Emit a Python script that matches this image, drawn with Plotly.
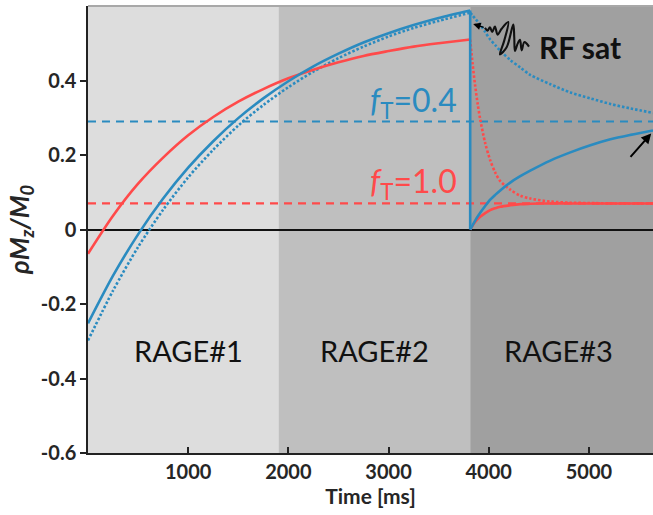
import plotly.graph_objects as go

# ---------------- data ----------------
x_range = [0, 5640]
y_range = [-0.6, 0.6]
x_ticks = [1000, 2000, 3000, 4000, 5000]
y_ticks = [-0.6, -0.4, -0.2, 0, 0.2, 0.4]
y_ticktext = ["-0.6", "-0.4", "-0.2", "0", "0.2", "0.4"]

region_edges = [0, 1902, 3815, 5640]
region_colors = ["#dddddd", "#bfbfbf", "#a0a0a0"]
region_labels = ["RAGE#1", "RAGE#2", "RAGE#3"]
region_label_t = [1000, 2855, 4700]
region_label_v = -0.325

# RAGE#1 + RAGE#2
t12 = [0, 250, 500, 750, 1000, 1250, 1500, 1750, 2000, 2250, 2500, 2750, 3000, 3250, 3500, 3815]
red_solid12 = [-0.065, 0.037, 0.123, 0.193, 0.253, 0.302, 0.343, 0.377, 0.406, 0.429, 0.449, 0.466, 0.479, 0.491, 0.500, 0.510]
blue_solid12 = [-0.252, -0.124, -0.013, 0.083, 0.166, 0.237, 0.299, 0.352, 0.398, 0.438, 0.472, 0.502, 0.527, 0.549, 0.568, 0.588]
blue_dot12 = [-0.298, -0.164, -0.047, 0.053, 0.140, 0.214, 0.279, 0.334, 0.382, 0.424, 0.460, 0.491, 0.518, 0.541, 0.560, 0.582]

# RAGE#3
t3 = [3815, 3840, 3865, 3890, 3915, 3965, 4015, 4065, 4115, 4215, 4315, 4415, 4615, 4815, 5015, 5215, 5415, 5640]
red_dot3 = [0.510, 0.443, 0.385, 0.337, 0.296, 0.232, 0.186, 0.153, 0.130, 0.107, 0.091, 0.083, 0.075, 0.072, 0.071, 0.070, 0.070, 0.070]
red_solid3 = [0.0, 0.011, 0.020, 0.028, 0.034, 0.044, 0.052, 0.057, 0.061, 0.065, 0.068, 0.069, 0.070, 0.070, 0.070, 0.070, 0.070, 0.070]
blue_solid3 = [0.0, 0.012, 0.024, 0.035, 0.045, 0.063, 0.080, 0.093, 0.105, 0.126, 0.143, 0.158, 0.185, 0.207, 0.226, 0.242, 0.254, 0.266]
blue_dot3 = [0.582, 0.574, 0.566, 0.558, 0.550, 0.530, 0.510, 0.495, 0.480, 0.455, 0.435, 0.415, 0.390, 0.368, 0.352, 0.337, 0.325, 0.313]

# RF saturation drop (blue solid)
t_sat = [3815, 3815]
blue_sat = [0.588, 0.0]

# steady states
ss_blue = 0.29
ss_red = 0.07
ft_labels = ["<i>f</i><sub>T</sub>=0.4", "<i>f</i><sub>T</sub>=1.0"]
ft_label_t = 3700
ft_label_v = [0.343, 0.125]

# RF pulse squiggle illustration
squig_t = [3962, 3989, 4012, 4035, 4062, 4089, 4129, 4195, 4155, 4112, 4179, 4245, 4255, 4262,
           4289, 4312, 4329, 4355, 4379, 4402]
squig_v = [0.541, 0.534, 0.543, 0.530, 0.545, 0.523, 0.539, 0.557, 0.507, 0.470, 0.489, 0.550,
           0.516, 0.479, 0.499, 0.509, 0.481, 0.503, 0.499, 0.491]
rf_arrow_tip = (3845, 0.552)
rf_label_pos = (4911, 0.489)
end_arrow_tip = (5622, 0.258)

BLUE = "#2a8bc0"
RED = "#ff4a4a"
FONT = "Lato"

fig = go.Figure()

def line(x, y, color, dash="solid", width=2.6, shape="spline", smoothing=0.8):
    fig.add_trace(go.Scatter(x=x, y=y, mode="lines", hoverinfo="skip", showlegend=False,
                             line=dict(color=color, width=width, dash=dash, shape=shape,
                                       smoothing=smoothing if shape == "spline" else None)))

# steady-state dashed lines
line(x_range, [ss_red, ss_red], RED, dash="8px,6px", width=2.2, shape="linear")
line(x_range, [ss_blue, ss_blue], BLUE, dash="8px,6px", width=2.2, shape="linear")
# dotted curves
line(t3, red_dot3, RED, dash="2.5px,2px", width=2.6)
line(t12, blue_dot12, BLUE, dash="2.5px,2px", width=2.6)
line(t3, blue_dot3, BLUE, dash="2.5px,2px", width=2.6)
# solid curves
line(t12, red_solid12, RED)
line(t3, red_solid3, RED)
line(t12, blue_solid12, BLUE)
line(t_sat, blue_sat, BLUE, shape="linear")
line(t3, blue_solid3, BLUE)
# squiggle
line(squig_t, squig_v, "#111111", width=2.1, smoothing=1.0)

shapes = []
for i in range(3):
    shapes.append(dict(type="rect", xref="x", yref="y", layer="below", line=dict(width=0),
                       x0=region_edges[i], x1=region_edges[i + 1], y0=y_range[0], y1=y_range[1],
                       fillcolor=region_colors[i]))
shapes.append(dict(type="line", xref="paper", yref="paper", x0=0, x1=1, y0=1, y1=1,
                   line=dict(color="#a8a8a8", width=2)))

annotations = []
for i in range(3):
    annotations.append(dict(x=region_label_t[i], y=region_label_v, xref="x", yref="y", text=region_labels[i],
                            showarrow=False, font=dict(family=FONT, size=29, color="#111111")))
for txt, v, c in zip(ft_labels, ft_label_v, [BLUE, RED]):
    annotations.append(dict(x=ft_label_t, y=v, xref="x", yref="y", text=txt, xanchor="right",
                            showarrow=False, font=dict(family=FONT, size=32, color=c)))
annotations.append(dict(x=rf_label_pos[0], y=rf_label_pos[1], xref="x", yref="y", text="<b>RF sat</b>",
                        showarrow=False, font=dict(family=FONT, size=30, color="#111111")))
annotations.append(dict(x=rf_arrow_tip[0], y=rf_arrow_tip[1], xref="x", yref="y", text="",
                        showarrow=True, ax=12, ay=4, arrowhead=2, arrowsize=1, arrowwidth=1.5,
                        arrowcolor="black"))
annotations.append(dict(x=end_arrow_tip[0], y=end_arrow_tip[1], xref="x", yref="y", text="",
                        showarrow=True, ax=-22, ay=25, arrowhead=2, arrowsize=1, arrowwidth=2,
                        arrowcolor="black"))

tickfont = dict(family=FONT, size=20, color="#262626", weight="bold")
fig.update_layout(
    width=653, height=515, autosize=False,
    margin=dict(l=88, r=0, t=6, b=62),
    paper_bgcolor="white", plot_bgcolor="white",
    shapes=shapes, annotations=annotations,
    xaxis=dict(range=x_range, tickvals=x_ticks, ticks="inside", ticklen=6, tickwidth=1.5,
               tickcolor="#222", showline=True, linecolor="#222", linewidth=1.5,
               showgrid=False, zeroline=False, tickfont=tickfont,
               title=dict(text="<b>Time [ms]</b>", font=dict(family=FONT, size=21, color="#262626"),
                          standoff=2)),
    yaxis=dict(range=y_range, tickvals=y_ticks, ticktext=y_ticktext, ticks="outside", ticklen=6,
               tickwidth=1.5, tickcolor="#222", showline=True, linecolor="#222", linewidth=1.5,
               showgrid=False, zeroline=True, zerolinecolor="#111", zerolinewidth=1.6,
               tickfont=tickfont,
               title=dict(text="<b><i>ρM</i></b><sub><b><i>z</i></b></sub><b><i>/M</i></b><sub><b><i>0</i></b></sub>",
                          font=dict(family=FONT, size=26, color="#262626"), standoff=4)),
)

fig.write_html("out.html")
